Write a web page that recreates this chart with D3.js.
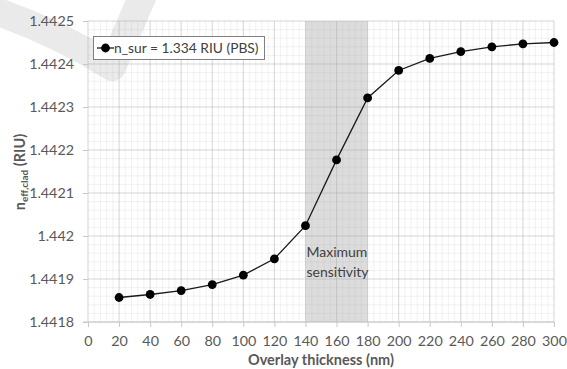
<!DOCTYPE html>
<html>
<head>
<meta charset="utf-8">
<script src="https://cdn.jsdelivr.net/npm/d3@7"></script>
<style>
  body { margin: 0; background: #fff; }
  svg { display: block; font-family: Lato, "Open Sans", sans-serif; }
</style>
</head>
<body>
<div class="graphHere"></div>
<script>
// data
var thickness = [20, 40, 60, 80, 100, 120, 140, 160, 180, 200, 220, 240, 260, 280, 300];
var nEffClad = [1.441857, 1.441864, 1.441873, 1.441887, 1.441909, 1.441947, 1.442024, 1.442177,
                1.442321, 1.442385, 1.442413, 1.442429, 1.44244, 1.442447, 1.44245];
var xTicks = [0, 20, 40, 60, 80, 100, 120, 140, 160, 180, 200, 220, 240, 260, 280, 300];
var yTicks = [1.4418, 1.4419, 1.442, 1.4421, 1.4422, 1.4423, 1.4424, 1.4425];
var band = [140, 180];
var seriesName = "n_sur = 1.334 RIU (PBS)";

var W = 567, H = 369;
var plot = { left: 88, right: 554, top: 21, bottom: 322 };

var svg = d3.select(".graphHere").append("svg")
  .attr("width", W)
  .attr("height", H);

// faint watermark swoosh in the corner
svg.append("path")
  .attr("d", "M-20,6 Q50,28 112,67 L146,-12")
  .attr("fill", "none")
  .attr("stroke", "#eaeaea")
  .attr("stroke-width", 28)
  .attr("stroke-linejoin", "round");

var x = d3.scaleLinear().domain([0, 300]).range([plot.left, plot.right]);
var y = d3.scaleLinear().domain([1.4418, 1.4425]).range([plot.bottom, plot.top]);

var g = svg.append("g");

// shaded region
g.append("rect")
  .attr("x", x(band[0]))
  .attr("y", y(1.4425))
  .attr("width", x(band[1]) - x(band[0]))
  .attr("height", y(1.4418) - y(1.4425))
  .attr("fill", "#dcdcdc");

// minor grid
var minorX = d3.range(0, 301, 4);
var minorY = d3.range(0, 36).map(function(i){ return 1.4418 + i * 0.00002; });
g.selectAll(".mx").data(minorX).enter().append("line")
  .attr("x1", function(d){ return x(d); }).attr("x2", function(d){ return x(d); })
  .attr("y1", plot.top).attr("y2", plot.bottom)
  .attr("stroke", "#b0b0b0").attr("stroke-opacity", 0.16).attr("stroke-width", 1);
g.selectAll(".my").data(minorY).enter().append("line")
  .attr("x1", plot.left).attr("x2", plot.right)
  .attr("y1", function(d){ return y(d); }).attr("y2", function(d){ return y(d); })
  .attr("stroke", "#b0b0b0").attr("stroke-opacity", 0.16).attr("stroke-width", 1);

// major grid
g.selectAll(".gx").data(xTicks).enter().append("line")
  .attr("x1", function(d){ return x(d); }).attr("x2", function(d){ return x(d); })
  .attr("y1", plot.top).attr("y2", plot.bottom)
  .attr("stroke", "#b0b0b0").attr("stroke-opacity", 0.4).attr("stroke-width", 1);
g.selectAll(".gy").data(yTicks).enter().append("line")
  .attr("x1", plot.left).attr("x2", plot.right)
  .attr("y1", function(d){ return y(d); }).attr("y2", function(d){ return y(d); })
  .attr("stroke", "#b0b0b0").attr("stroke-opacity", 0.4).attr("stroke-width", 1);

// axes
var xAxis = d3.axisBottom(x).tickValues(xTicks).tickSize(5).tickPadding(9)
  .tickFormat(d3.format("d"));
var gx = svg.append("g").attr("transform", "translate(0," + plot.bottom + ")").call(xAxis);
gx.select(".domain").attr("stroke", "#c8c8c8").attr("d", "M" + (plot.left - 5) + ",0H" + plot.right);
gx.selectAll(".tick line").attr("stroke", "#c8c8c8");
gx.selectAll(".tick text").attr("fill", "#595959").style("font-size", "14.3px")
  .style("font-family", "Lato, sans-serif");

var yAxis = d3.axisLeft(y).tickValues(yTicks).tickSize(5).tickPadding(9)
  .tickFormat(function(d){ return +d.toFixed(4) + ""; });
var gy = svg.append("g").attr("transform", "translate(" + plot.left + ",0)").call(yAxis);
gy.select(".domain").remove();
gy.selectAll(".tick line").attr("stroke", "#c8c8c8");
gy.selectAll(".tick text").attr("fill", "#595959").style("font-size", "14.3px")
  .style("font-family", "Lato, sans-serif");

// series line and markers
var line = d3.line()
  .x(function(d, i){ return x(thickness[i]); })
  .y(function(d){ return y(d); });

g.append("path")
  .datum(nEffClad)
  .attr("d", line)
  .attr("fill", "none")
  .attr("stroke", "#1a1a1a")
  .attr("stroke-width", 1.3);

g.selectAll(".pt").data(nEffClad).enter().append("circle")
  .attr("cx", function(d, i){ return x(thickness[i]); })
  .attr("cy", function(d){ return y(d); })
  .attr("r", 4.4)
  .attr("fill", "#000");

// annotation in the band
var note = g.append("text")
  .attr("x", x(band[0]) + 1)
  .attr("y", 257)
  .attr("fill", "#404040")
  .style("font-size", "14px");
note.append("tspan").attr("x", x(band[0]) + 1).text("Maximum");
note.append("tspan").attr("x", x(band[0]) + 1).attr("dy", 20).text("sensitivity");

// legend
var lg = svg.append("g");
lg.append("rect")
  .attr("x", 93.5).attr("y", 36.5)
  .attr("width", 171).attr("height", 23)
  .attr("fill", "#fff")
  .attr("stroke", "#7f7f7f");
lg.append("line")
  .attr("x1", 97).attr("x2", 114)
  .attr("y1", 48).attr("y2", 48)
  .attr("stroke", "#1a1a1a").attr("stroke-width", 1.3);
lg.append("circle").attr("cx", 105.5).attr("cy", 48).attr("r", 4.4).attr("fill", "#000");
lg.append("text")
  .attr("x", 114).attr("y", 53)
  .attr("fill", "#404040")
  .style("font-size", "13.8px")
  .text(seriesName);

// axis titles
svg.append("text")
  .attr("x", 321).attr("y", 365)
  .attr("text-anchor", "middle")
  .attr("fill", "#595959")
  .style("font-size", "14.5px")
  .style("font-weight", "bold")
  .text("Overlay thickness (nm)");

var yt = svg.append("text")
  .attr("transform", "translate(25,172) rotate(-90)")
  .attr("text-anchor", "middle")
  .attr("fill", "#595959")
  .style("font-size", "14.5px")
  .style("font-weight", "bold");
yt.append("tspan").text("n");
yt.append("tspan").attr("dy", 3).style("font-size", "10px").text("eff,clad");
yt.append("tspan").attr("dy", -3).text(" (RIU)");
</script>
</body>
</html>
